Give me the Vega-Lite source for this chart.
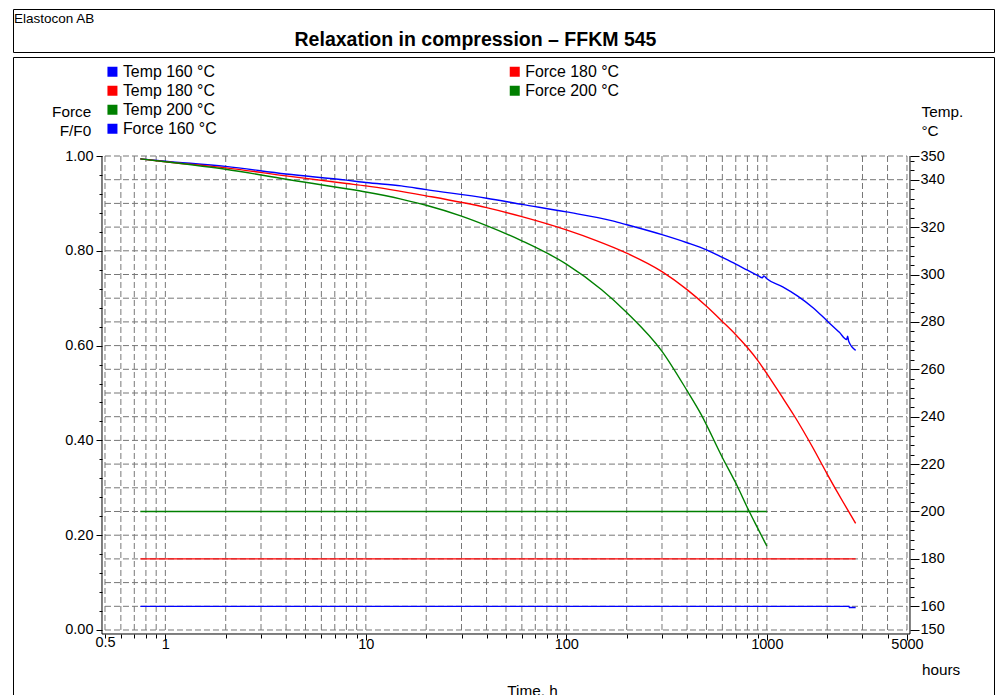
{
  "$schema": "https://vega.github.io/schema/vega-lite/v6.json",
  "background": "white",
  "padding": {"left": 12, "top": 8, "right": 0, "bottom": 0},
  "bounds": "flush",
  "spacing": 5,
  "config": {
    "font": "Liberation Sans",
    "view": {"stroke": "black", "strokeWidth": 1},
    "axis": {"labelColor": "black", "titleColor": "black", "tickColor": "black", "labelFont": "Liberation Sans", "titleFont": "Liberation Sans"},
    "legend": {"labelColor": "black", "labelFont": "Liberation Sans"}
  },
  "datasets": {
    "force": [
      {"series": "Force 160 °C", "t": 0.75, "f": 0.994},
      {"series": "Force 160 °C", "t": 1, "f": 0.989},
      {"series": "Force 160 °C", "t": 2, "f": 0.978},
      {"series": "Force 160 °C", "t": 4, "f": 0.962},
      {"series": "Force 160 °C", "t": 8, "f": 0.949},
      {"series": "Force 160 °C", "t": 10, "f": 0.944},
      {"series": "Force 160 °C", "t": 15, "f": 0.937},
      {"series": "Force 160 °C", "t": 20, "f": 0.929},
      {"series": "Force 160 °C", "t": 40, "f": 0.911},
      {"series": "Force 160 °C", "t": 60, "f": 0.898},
      {"series": "Force 160 °C", "t": 100, "f": 0.882},
      {"series": "Force 160 °C", "t": 170, "f": 0.863},
      {"series": "Force 160 °C", "t": 200, "f": 0.855},
      {"series": "Force 160 °C", "t": 300, "f": 0.834},
      {"series": "Force 160 °C", "t": 400, "f": 0.817},
      {"series": "Force 160 °C", "t": 500, "f": 0.802},
      {"series": "Force 160 °C", "t": 600, "f": 0.786},
      {"series": "Force 160 °C", "t": 700, "f": 0.772},
      {"series": "Force 160 °C", "t": 800, "f": 0.759},
      {"series": "Force 160 °C", "t": 900, "f": 0.748},
      {"series": "Force 160 °C", "t": 950, "f": 0.743},
      {"series": "Force 160 °C", "t": 965, "f": 0.747},
      {"series": "Force 160 °C", "t": 1000, "f": 0.741},
      {"series": "Force 160 °C", "t": 1200, "f": 0.724},
      {"series": "Force 160 °C", "t": 1420, "f": 0.705},
      {"series": "Force 160 °C", "t": 1700, "f": 0.680},
      {"series": "Force 160 °C", "t": 2000, "f": 0.652},
      {"series": "Force 160 °C", "t": 2300, "f": 0.628},
      {"series": "Force 160 °C", "t": 2500, "f": 0.613},
      {"series": "Force 160 °C", "t": 2530, "f": 0.620},
      {"series": "Force 160 °C", "t": 2560, "f": 0.609},
      {"series": "Force 160 °C", "t": 2773, "f": 0.590},
      {"series": "Force 180 °C", "t": 0.75, "f": 0.994},
      {"series": "Force 180 °C", "t": 1, "f": 0.988},
      {"series": "Force 180 °C", "t": 2, "f": 0.975},
      {"series": "Force 180 °C", "t": 4, "f": 0.958},
      {"series": "Force 180 °C", "t": 8, "f": 0.942},
      {"series": "Force 180 °C", "t": 10, "f": 0.937},
      {"series": "Force 180 °C", "t": 20, "f": 0.916},
      {"series": "Force 180 °C", "t": 40, "f": 0.891},
      {"series": "Force 180 °C", "t": 60, "f": 0.872},
      {"series": "Force 180 °C", "t": 100, "f": 0.844},
      {"series": "Force 180 °C", "t": 140, "f": 0.822},
      {"series": "Force 180 °C", "t": 200, "f": 0.795},
      {"series": "Force 180 °C", "t": 300, "f": 0.756},
      {"series": "Force 180 °C", "t": 400, "f": 0.718},
      {"series": "Force 180 °C", "t": 500, "f": 0.683},
      {"series": "Force 180 °C", "t": 600, "f": 0.651},
      {"series": "Force 180 °C", "t": 700, "f": 0.623},
      {"series": "Force 180 °C", "t": 800, "f": 0.596},
      {"series": "Force 180 °C", "t": 900, "f": 0.569},
      {"series": "Force 180 °C", "t": 1000, "f": 0.541},
      {"series": "Force 180 °C", "t": 1170, "f": 0.497},
      {"series": "Force 180 °C", "t": 1370, "f": 0.452},
      {"series": "Force 180 °C", "t": 1700, "f": 0.384},
      {"series": "Force 180 °C", "t": 2000, "f": 0.329},
      {"series": "Force 180 °C", "t": 2400, "f": 0.270},
      {"series": "Force 180 °C", "t": 2773, "f": 0.225},
      {"series": "Force 200 °C", "t": 0.75, "f": 0.994},
      {"series": "Force 200 °C", "t": 1, "f": 0.988},
      {"series": "Force 200 °C", "t": 2, "f": 0.972},
      {"series": "Force 200 °C", "t": 4, "f": 0.951},
      {"series": "Force 200 °C", "t": 8, "f": 0.931},
      {"series": "Force 200 °C", "t": 10, "f": 0.924},
      {"series": "Force 200 °C", "t": 15, "f": 0.909},
      {"series": "Force 200 °C", "t": 20, "f": 0.896},
      {"series": "Force 200 °C", "t": 30, "f": 0.873},
      {"series": "Force 200 °C", "t": 40, "f": 0.853},
      {"series": "Force 200 °C", "t": 60, "f": 0.821},
      {"series": "Force 200 °C", "t": 100, "f": 0.772},
      {"series": "Force 200 °C", "t": 150, "f": 0.718},
      {"series": "Force 200 °C", "t": 200, "f": 0.670},
      {"series": "Force 200 °C", "t": 300, "f": 0.588},
      {"series": "Force 200 °C", "t": 400, "f": 0.505},
      {"series": "Force 200 °C", "t": 470, "f": 0.455},
      {"series": "Force 200 °C", "t": 600, "f": 0.364},
      {"series": "Force 200 °C", "t": 700, "f": 0.310},
      {"series": "Force 200 °C", "t": 815, "f": 0.251},
      {"series": "Force 200 °C", "t": 900, "f": 0.215},
      {"series": "Force 200 °C", "t": 1000, "f": 0.177}
    ],
    "temp": [
      {"series": "Temp 160 °C", "t": 0.75, "T": 160},
      {"series": "Temp 160 °C", "t": 2570, "T": 160},
      {"series": "Temp 160 °C", "t": 2580, "T": 159.5},
      {"series": "Temp 160 °C", "t": 2773, "T": 159.5},
      {"series": "Temp 180 °C", "t": 0.75, "T": 180},
      {"series": "Temp 180 °C", "t": 2773, "T": 180},
      {"series": "Temp 200 °C", "t": 0.75, "T": 200},
      {"series": "Temp 200 °C", "t": 1000, "T": 200}
    ],
    "hgrid": [
      {"g": 0}, {"g": 0.05}, {"g": 0.1}, {"g": 0.15}, {"g": 0.2}, {"g": 0.25}, {"g": 0.3},
      {"g": 0.35}, {"g": 0.4}, {"g": 0.45}, {"g": 0.5}, {"g": 0.55}, {"g": 0.6}, {"g": 0.65},
      {"g": 0.7}, {"g": 0.75}, {"g": 0.8}, {"g": 0.85}, {"g": 0.9}, {"g": 0.95}, {"g": 1}
    ],
    "vgrid": [
      {"t": 0.5}, {"t": 0.6}, {"t": 0.7}, {"t": 0.8}, {"t": 0.9},
      {"t": 1}, {"t": 2}, {"t": 3}, {"t": 4}, {"t": 5}, {"t": 6}, {"t": 7}, {"t": 8}, {"t": 9},
      {"t": 10}, {"t": 20}, {"t": 30}, {"t": 40}, {"t": 50}, {"t": 60}, {"t": 70}, {"t": 80}, {"t": 90},
      {"t": 100}, {"t": 200}, {"t": 300}, {"t": 400}, {"t": 500}, {"t": 600}, {"t": 700}, {"t": 800}, {"t": 900},
      {"t": 1000}, {"t": 2000}, {"t": 3000}, {"t": 4000}, {"t": 5000}
    ],
    "header": [
      {"text": "Relaxation in compression – FFKM 545", "role": "title"},
      {"text": "Elastocon AB", "role": "company"}
    ]
  },
  "vconcat": [
    {
      "width": 981,
      "height": 43,
      "view": {"stroke": "black", "strokeWidth": 1},
      "data": {"name": "header"},
      "layer": [
        {
          "transform": [{"filter": "datum.role == 'title'"}],
          "mark": {"type": "text", "fontSize": 19.5, "fontWeight": "bold", "color": "black", "baseline": "alphabetic", "align": "center", "dx": -28, "dy": 15.5},
          "encoding": {
            "text": {"field": "text", "type": "nominal"},
            "x": {"datum": 0.5, "type": "quantitative", "scale": {"domain": [0, 1], "nice": false, "zero": false}, "axis": null},
            "y": {"datum": 0.5, "type": "quantitative", "scale": {"domain": [0, 1], "nice": false, "zero": false}, "axis": null}
          }
        },
        {
          "transform": [{"filter": "datum.role == 'company'"}],
          "mark": {"type": "text", "fontSize": 13.5, "color": "black", "baseline": "alphabetic", "align": "left", "dx": 1, "dy": -7.5},
          "encoding": {
            "text": {"field": "text", "type": "nominal"},
            "x": {"datum": 0, "type": "quantitative", "scale": {"domain": [0, 1], "nice": false, "zero": false}, "axis": null},
            "y": {"datum": 0.5, "type": "quantitative", "scale": {"domain": [0, 1], "nice": false, "zero": false}, "axis": null}
          }
        }
      ]
    },
    {
      "width": 981,
      "height": 638,
      "view": {"stroke": "black", "strokeWidth": 1},
      "layer": [
        {
          "data": {"name": "hgrid"},
          "mark": {"type": "rule", "color": "#777777", "strokeWidth": 1, "strokeDash": [6, 3]},
          "encoding": {
            "x": {"datum": 0.5, "type": "quantitative", "scale": {"type": "log", "domain": [0.17383, 13584], "nice": false}, "axis": null},
            "x2": {"datum": 5000},
            "y": {"field": "g", "type": "quantitative", "scale": {"domain": [-0.137131, 1.208861], "nice": false, "zero": false}, "axis": null}
          }
        },
        {
          "data": {"name": "vgrid"},
          "mark": {"type": "rule", "color": "#777777", "strokeWidth": 1, "strokeDash": [6, 3]},
          "encoding": {
            "x": {"field": "t", "type": "quantitative", "scale": {"type": "log", "domain": [0.17383, 13584], "nice": false}, "axis": null},
            "y": {"datum": 0, "type": "quantitative", "scale": {"domain": [-0.137131, 1.208861], "nice": false, "zero": false}, "axis": null},
            "y2": {"datum": 1}
          }
        },
        {
          "data": {"values": [{}]},
          "mark": {"type": "rule", "color": "black", "strokeWidth": 1, "xOffset": -3, "x2Offset": 3, "yOffset": 4},
          "encoding": {
            "x": {"datum": 0.5, "type": "quantitative", "scale": {"type": "log", "domain": [0.17383, 13584], "nice": false}, "axis": null},
            "x2": {"datum": 5000},
            "y": {"datum": 0, "type": "quantitative", "scale": {"domain": [-0.137131, 1.208861], "nice": false, "zero": false}, "axis": null}
          }
        },
        {
          "data": {"values": [{}]},
          "mark": {"type": "rule", "color": "black", "strokeWidth": 1, "xOffset": -3, "yOffset": 4},
          "encoding": {
            "x": {"datum": 0.5, "type": "quantitative", "scale": {"type": "log", "domain": [0.17383, 13584], "nice": false}, "axis": null},
            "y": {"datum": 0, "type": "quantitative", "scale": {"domain": [-0.137131, 1.208861], "nice": false, "zero": false}, "axis": null},
            "y2": {"datum": 1}
          }
        },
        {
          "data": {"values": [{}]},
          "mark": {"type": "rule", "color": "black", "strokeWidth": 1, "xOffset": 3, "yOffset": 4},
          "encoding": {
            "x": {"datum": 5000, "type": "quantitative", "scale": {"type": "log", "domain": [0.17383, 13584], "nice": false}, "axis": null},
            "y": {"datum": 0, "type": "quantitative", "scale": {"domain": [-0.137131, 1.208861], "nice": false, "zero": false}, "axis": null},
            "y2": {"datum": 1}
          }
        },
        {
          "data": {"name": "force"},
          "transform": [{"filter": "datum.series == 'Force 160 °C'"}],
          "mark": {"type": "line", "strokeWidth": 1.4, "interpolate": "monotone"},
          "encoding": {
            "x": {
              "field": "t", "type": "quantitative",
              "scale": {"type": "log", "domain": [0.17383, 13584], "nice": false},
              "axis": {
                "orient": "bottom", "offset": -61,
                "values": [0.5, 0.6, 0.7, 0.8, 0.9, 1, 2, 3, 4, 5, 6, 7, 8, 9, 10, 20, 30, 40, 50, 60, 70, 80, 90, 100, 200, 300, 400, 500, 600, 700, 800, 900, 1000, 2000, 3000, 4000, 5000],
                "domain": false, "grid": false,
                "tickSize": {"condition": {"test": "indexof([1, 10, 100, 1000, 5000], datum.value) >= 0", "value": 6}, "value": 4},
                "labelExpr": "indexof([0.5, 1, 10, 100, 1000, 5000], datum.value) >= 0 ? format(datum.value, '~g') : ''",
                "labelFontSize": 14.5, "labelPadding": -3, "labelFlush": false, "labelOverlap": false, "labelBound": false,
                "title": "Time, h", "titleFontSize": 15.3, "titleFontWeight": "normal", "titleX": 519, "titleY": 61, "titleAlign": "center", "titleBaseline": "alphabetic", "titleAngle": 0
              }
            },
            "y": {
              "field": "f", "type": "quantitative",
              "scale": {"domain": [-0.137131, 1.208861], "nice": false, "zero": false},
              "axis": {
                "orient": "left", "offset": -89,
                "values": [0, 0.04, 0.08, 0.12, 0.16, 0.2, 0.24, 0.28, 0.32, 0.36, 0.4, 0.44, 0.48, 0.52, 0.56, 0.6, 0.64, 0.68, 0.72, 0.76, 0.8, 0.84, 0.88, 0.92, 0.96, 1],
                "domain": false, "grid": false,
                "tickSize": {"condition": {"test": "indexof([0, 0.2, 0.4, 0.6, 0.8, 1], datum.value) >= 0", "value": 6}, "value": 3},
                "labelExpr": "indexof([0, 0.2, 0.4, 0.6, 0.8, 1], datum.value) >= 0 ? format(datum.value, '.2f') : ''",
                "labelFontSize": 14.5, "labelPadding": 3, "labelFlush": false, "labelOverlap": false, "labelBound": false,
                "title": ["Force", "F/F0"], "titleFontSize": 15.3, "titleFontWeight": "normal", "titleAngle": 0, "titleAlign": "right", "titleBaseline": "alphabetic", "titleX": -11.3, "titleY": 59.5, "titleLineHeight": 19.3
              }
            },
            "stroke": {
              "field": "series", "type": "nominal",
              "scale": {"domain": ["Temp 160 °C", "Temp 180 °C", "Temp 200 °C", "Force 160 °C"], "range": ["#0000ff", "#ff0000", "#008000", "#0000ff"]},
              "legend": {"orient": "none", "legendX": 91.5, "legendY": 53.4, "title": null, "padding": 0, "symbolType": "square", "symbolSize": 25, "symbolStrokeWidth": 5, "symbolOpacity": 1, "labelFontSize": 15.9, "labelOffset": 2.5, "rowPadding": 0, "clipHeight": 18.6, "labelLimit": 0}
            }
          }
        },
        {
          "data": {"name": "force"},
          "transform": [{"filter": "datum.series != 'Force 160 °C'"}],
          "mark": {"type": "line", "strokeWidth": 1.4, "interpolate": "monotone"},
          "encoding": {
            "x": {"field": "t", "type": "quantitative", "scale": {"type": "log", "domain": [0.17383, 13584], "nice": false}, "axis": null},
            "y": {"field": "f", "type": "quantitative", "scale": {"domain": [-0.137131, 1.208861], "nice": false, "zero": false}, "axis": null},
            "color": {
              "field": "series", "type": "nominal",
              "scale": {"domain": ["Force 180 °C", "Force 200 °C"], "range": ["#ff0000", "#008000"]},
              "legend": {"orient": "none", "legendX": 493.8, "legendY": 53.4, "title": null, "padding": 0, "symbolType": "square", "symbolSize": 25, "symbolStrokeWidth": 5, "symbolOpacity": 1, "labelFontSize": 15.9, "labelOffset": 2.5, "rowPadding": 0, "clipHeight": 18.6, "labelLimit": 0}
            }
          }
        },
        {
          "data": {"name": "temp"},
          "mark": {"type": "line", "strokeWidth": 1.3},
          "encoding": {
            "x": {
              "field": "t", "type": "quantitative",
              "scale": {"type": "log", "domain": [0.17383, 13584], "nice": false},
              "axis": {"orient": "bottom", "offset": -61, "domain": false, "ticks": false, "labels": false, "grid": false, "title": "hours", "titleFontSize": 15.3, "titleFontWeight": "normal", "titleX": 908.5, "titleY": 40, "titleAlign": "left", "titleBaseline": "alphabetic", "titleAngle": 0}
            },
            "y": {
              "field": "T", "type": "quantitative",
              "scale": {"domain": [122.5738, 391.7722], "nice": false, "zero": false},
              "axis": {
                "orient": "right", "offset": -84,
                "values": [150, 160, 164, 168, 172, 176, 180, 184, 188, 192, 196, 200, 204, 208, 212, 216, 220, 224, 228, 232, 236, 240, 244, 248, 252, 256, 260, 264, 268, 272, 276, 280, 284, 288, 292, 296, 300, 304, 308, 312, 316, 320, 324, 328, 332, 336, 340, 344, 348, 350],
                "domain": false, "grid": false,
                "tickSize": {"condition": {"test": "datum.value == 150 || datum.value == 350 || datum.value % 20 == 0", "value": 9}, "value": 4},
                "labelExpr": "datum.value == 150 || datum.value == 350 || datum.value % 20 == 0 ? format(datum.value, 'd') : ''",
                "labelFontSize": 14.5, "labelPadding": 1, "labelFlush": false, "labelOverlap": false, "labelBound": false,
                "title": ["Temp.", "°C"], "titleFontSize": 15.3, "titleFontWeight": "normal", "titleAngle": 0, "titleAlign": "left", "titleBaseline": "alphabetic", "titleX": 11, "titleY": 59, "titleLineHeight": 19.5
              }
            },
            "stroke": {
              "field": "series", "type": "nominal",
              "scale": {"domain": ["Temp 160 °C", "Temp 180 °C", "Temp 200 °C", "Force 160 °C"], "range": ["#0000ff", "#ff0000", "#008000", "#0000ff"]},
              "legend": {"orient": "none", "legendX": 91.5, "legendY": 53.4, "title": null, "padding": 0, "symbolType": "square", "symbolSize": 25, "symbolStrokeWidth": 5, "symbolOpacity": 1, "labelFontSize": 15.9, "labelOffset": 2.5, "rowPadding": 0, "clipHeight": 18.6, "labelLimit": 0}
            }
          }
        }
      ],
      "resolve": {"scale": {"y": "independent"}, "axis": {"x": "independent"}}
    }
  ]
}
